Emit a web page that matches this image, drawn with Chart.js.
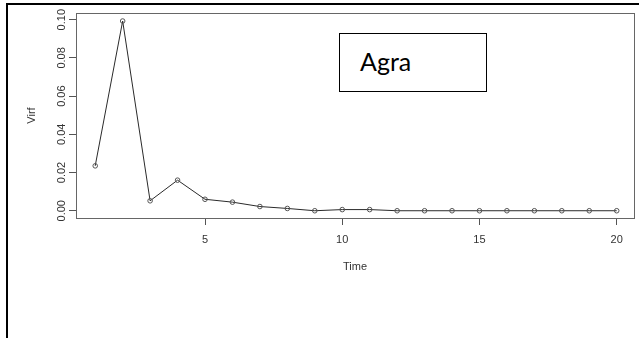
<!DOCTYPE html>
<html>
<head>
<meta charset="utf-8">
<script src="https://cdn.jsdelivr.net/npm/chart.js@4/dist/chart.umd.min.js"></script>
<style>
  html, body { margin: 0; padding: 0; background: #fff; }
  #wrap { position: relative; width: 639px; height: 338px; overflow: hidden; }
  #frame { position: absolute; left: 6px; top: 3px; width: 640px; height: 340px;
           border-top: 2px solid #000; border-left: 2px solid #000; box-sizing: border-box; }
  #label { position: absolute; left: 339px; top: 33px; width: 148px; height: 59px;
           border: 1.5px solid #000; box-sizing: border-box; background: #fff;
           font-family: Lato, "Open Sans", sans-serif; font-size: 25px; color: #000;
           padding-left: 20px; line-height: 55px; }
  canvas { position: absolute; left: 0; top: 0; }
</style>
</head>
<body>
<div id="wrap">
  <canvas id="c" width="639" height="338"></canvas>
  <div id="frame"></div>
  <div id="label">Agra</div>
</div>
<script>
const time = [1,2,3,4,5,6,7,8,9,10,11,12,13,14,15,16,17,18,19,20];
const virf = [0.0235,0.0993,0.0052,0.0160,0.0060,0.0045,0.0022,0.0012,0.0000,0.0006,0.0006,0.0000,0.0000,0.0000,0.0000,0.0000,0.0000,0.0000,0.0000,0.0000];
const xTicks = [5,10,15,20];
const yTicks = [0.00,0.02,0.04,0.06,0.08,0.10];
const xTitle = "Time";
const yTitle = "Virf";

const boxPlugin = {
  id: 'box',
  afterDraw(chart) {
    const a = chart.chartArea, ctx = chart.ctx;
    ctx.save();
    ctx.strokeStyle = '#666';
    ctx.lineWidth = 1;
    ctx.strokeRect(Math.round(a.left)+0.5, Math.round(a.top)+0.5, Math.round(a.right-a.left), Math.round(a.bottom-a.top));
    ctx.restore();
  }
};

new Chart(document.getElementById('c'), {
  type: 'line',
  data: {
    datasets: [{
      data: time.map((t,i) => ({x: t, y: virf[i]})),
      borderColor: '#2a2a2a',
      borderWidth: 1,
      pointRadius: 2.3,
      pointBorderWidth: 1,
      pointBorderColor: '#555',
      pointBackgroundColor: 'rgba(255,255,255,0)',
      tension: 0
    }]
  },
  plugins: [boxPlugin],
  options: {
    responsive: false,
    devicePixelRatio: 1,
    animation: false,
    layout: { padding: { left: 25, top: 13, right: 5, bottom: 64 } },
    plugins: { legend: { display: false }, tooltip: { enabled: false } },
    scales: {
      x: {
        type: 'linear',
        min: 0.30, max: 20.63,
        afterBuildTicks: s => { s.ticks = xTicks.map(v => ({value: v})); },
        afterFit: s => { s.height = 56; },
        border: { display: false },
        grid: { display: true, drawOnChartArea: false, drawTicks: true, tickLength: 7, tickColor: '#555', color: '#555' },
        ticks: { color: '#333', font: { family: 'Liberation Sans', size: 11 }, padding: 8, maxRotation: 0, minRotation: 0 },
        title: { display: true, text: xTitle, color: '#333', font: { family: 'Liberation Sans', size: 11 }, padding: 0 }
      },
      y: {
        type: 'linear',
        min: -0.0038, max: 0.1035,
        afterBuildTicks: s => { s.ticks = yTicks.map(v => ({value: v})); },
        afterFit: s => { s.width = 51; },
        border: { display: false },
        grid: { display: true, drawOnChartArea: false, drawTicks: true, tickLength: 7, tickColor: '#555', color: '#555' },
        ticks: { color: '#333', font: { family: 'Liberation Sans', size: 11 }, padding: -4, minRotation: 90, maxRotation: 90, crossAlign: 'center',
                 callback: v => v.toFixed(2) },
        title: { display: true, text: yTitle, color: '#333', font: { family: 'Liberation Sans', size: 11 }, padding: 0 }
      }
    }
  }
});
</script>
</body>
</html>
